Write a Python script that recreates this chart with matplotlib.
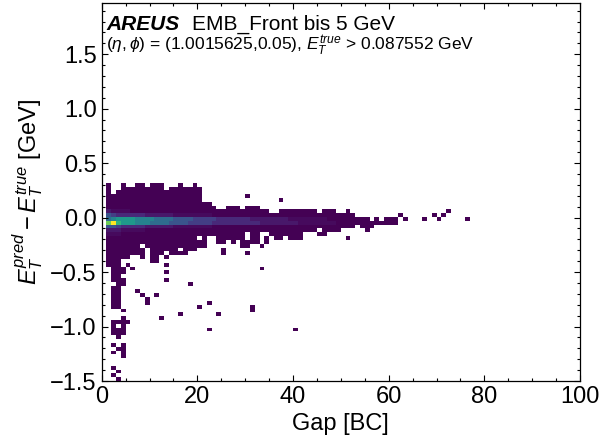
import matplotlib
matplotlib.use("Agg")
import matplotlib.pyplot as plt
import numpy as np
from matplotlib.ticker import MultipleLocator

plt.rcParams["font.family"] = ["Liberation Sans", "DejaVu Sans"]
plt.rcParams["mathtext.fontset"] = "custom"
plt.rcParams["mathtext.rm"] = "Liberation Sans"
plt.rcParams["mathtext.it"] = "Liberation Sans:italic"
plt.rcParams["mathtext.bf"] = "Liberation Sans:bold"

# histogram binning: gap in whole BCs, energy residual in 0.035 GeV steps
gap_edges = np.arange(0, 81)
delta_edges = np.linspace(-1.5, 0.32, 53)

# entries per cell, one character per gap bin ('.' = empty)
level_counts = {".": 0, "1": 1, "2": 20, "3": 50, "4": 90, "5": 140, "6": 200,
                "7": 270, "8": 340, "9": 410, "a": 500, "b": 600, "c": 770}

# rows listed from the top (0.285..0.32 GeV) down to the bottom (-1.5 GeV)
cell_rows = [
    ".1..1..11.111...1..1",
    ".1..111111111.1111111",
    ".1.1" + "1" * 17,
    "." + "1" * 20 + "." * 9 + "1",
    "." + "1" * 20 + "." * 16 + "1",
    "." + "1" * 22,
    "." + "1" * 23 + "..111.111",
    ".32222" + "1" * 29 + ".." + "1" * 8 + ".111..1" + "." * 20 + "1",
    ".65444444333333" + "2" * 8 + "1" * 30 + "." * 9 + "1" + "." * 6 + "1.1",
    ".78999988887777666655555" + "4" * 7 + "3" * 8 + "2" * 8 + "1" * 9 + ".1.111.1...1..1.....1",
    ".bca9998887777666655555" + "4" * 10 + "3" * 8 + "2" * 8 + "1" * 13,
    ".665" + "44444" + "333333" + "2" * 8 + "1" * 30 + ".111",
    ".33322222" + "1" * 36 + ".1111.....1",
    ".222" + "1" * 26 + ".11.." + "1" * 7 + "...11",
    "." + "1" * 19 + ".1..111111.11.1.11.111" + "." * 9 + "1",
    "." + "1" * 21 + "..11.1.1111.1",
    "." + "1" * 7 + "." + "1" * 13 + "." * 7 + "11..1",
    "." + "1" * 8 + "." + "1" * 6 + ".111.....1",
    "." + "1" * 8 + ".111.1111.......1....1",
    ".11111..1.11.1",
    ".111......11",
    ".111.1.......1",
    "..111.1" + "." * 26 + "1",
    "..111........1",
    "..11",
    "..111........1",
    "...11" + "." * 13 + "1",
    "..11",
    "..11...1",
    "..11....1..1",
    "..11.....1",
    "..11.....1" + "." * 12 + "1",
    "..11" + "." * 16 + "1" + "." * 10 + "1",
    "....1" + "." * 26 + "1",
    "." * 16 + "1" + "." * 7 + "1",
    "....1.......1",
    "..1111",
    "..1.1",
    "..111" + "." * 17 + "1" + "." * 17 + "1",
    "..111",
    "...1",
    "",
    "..1.1",
    "...11",
    "..1.1",
    "....1",
    "",
    "",
    "..1",
    "...1",
    "..1",
    "...1",
]

counts = np.zeros((len(delta_edges) - 1, len(gap_edges) - 1))
for r, row in enumerate(reversed(cell_rows)):
    for g, ch in enumerate(row):
        counts[r, g] = level_counts[ch]
hist = np.ma.masked_equal(counts, 0)

fig = plt.figure(figsize=(6.16, 4.45), dpi=100)
ax = fig.add_axes([0.1651, 0.1438, 0.7765, 0.8495])

ax.pcolormesh(gap_edges, delta_edges, hist, cmap="viridis",
              vmin=1, vmax=counts.max())

ax.set_xlim(0, 100)
ax.set_ylim(-1.5, 1.97)
ax.xaxis.set_major_locator(MultipleLocator(20))
ax.xaxis.set_minor_locator(MultipleLocator(5))
ax.yaxis.set_major_locator(MultipleLocator(0.5))
ax.yaxis.set_minor_locator(MultipleLocator(0.1))
ax.tick_params(which="both", direction="in", top=True, right=True,
               labelsize=17, width=0.8)
ax.tick_params(which="major", length=4.5)
ax.tick_params(which="minor", length=2.3)
for sp in ax.spines.values():
    sp.set_linewidth(0.9)

ax.set_xlabel("Gap [BC]", fontsize=17)
ax.set_ylabel(r"$E_T^{pred} - E_T^{true}$ [GeV]", fontsize=17)

ax.text(0.0105, 0.929, "AREUS", transform=ax.transAxes, fontsize=15,
        fontweight="bold", fontstyle="italic", va="baseline")
ax.text(0.188, 0.929, "EMB_Front bis 5 GeV", transform=ax.transAxes,
        fontsize=15, va="baseline")
ax.text(0.0098, 0.874,
        r"$(\eta, \phi)$ = (1.0015625,0.05), $E_T^{true}$ > 0.087552 GeV",
        transform=ax.transAxes, fontsize=12.5, va="baseline")

fig.savefig("out.png", dpi=100)
